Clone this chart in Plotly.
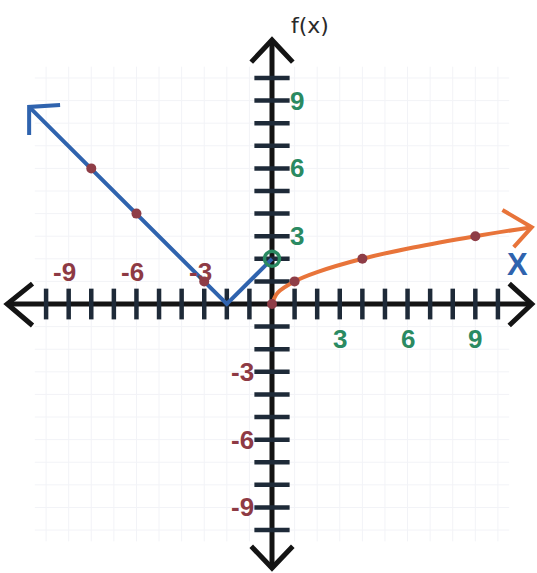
import plotly.graph_objects as go

# ---- data ----
# left branch: straight V pieces
blue_line_x = [-10.75, -2, 0]
blue_line_y = [8.72, 0, 2]
blue_pts_x = [-8, -6, -3]
blue_pts_y = [6, 4, 1]
open_pt_x = [0]
open_pt_y = [2]

# right branch: square-root style curve
orange_curve_x = [0, 0.25, 1, 2, 4, 6.25, 9, 11.5]
orange_curve_y = [0, 0.5, 1, 1.41, 2, 2.5, 3, 3.4]
orange_pts_x = [0, 1, 4, 9]
orange_pts_y = [0, 1, 2, 3]

tick_values = list(range(-10, 11))
pos_labels = [3, 6, 9]
neg_labels = [-9, -6, -3]

# ---- styles ----
AXIS = "#141414"
TICK = "#1e2a38"
BLUE = "#2f63ae"
ORANGE = "#e8743a"
DOT = "#8e3d47"
GREEN = "#2a8a62"
MAROON = "#8e3a44"
GRID = "#f2f3f7"
FONT = "Liberation Sans"

fig = go.Figure()
shapes = []

# faint grid paper
for v in tick_values:
    shapes.append(dict(type="line", x0=v, x1=v, y0=-10.5, y1=10.5,
                       line=dict(color=GRID, width=1), layer="below"))
    shapes.append(dict(type="line", x0=-10.5, x1=10.5, y0=v, y1=v,
                       line=dict(color=GRID, width=1), layer="below"))

# main axes
shapes.append(dict(type="line", x0=-11.7, x1=11.5, y0=0, y1=0,
                   line=dict(color=AXIS, width=5), layer="below"))
shapes.append(dict(type="line", x0=0, x1=0, y0=-11.65, y1=11.65,
                   line=dict(color=AXIS, width=5), layer="below"))

# tick marks
for v in tick_values:
    if v == 0:
        continue
    shapes.append(dict(type="line", x0=v, x1=v, y0=-0.68, y1=0.68,
                       line=dict(color=TICK, width=4.5), layer="below"))
    shapes.append(dict(type="line", x0=-0.78, x1=0.78, y0=v, y1=v,
                       line=dict(color=TICK, width=4.5), layer="below"))

# open chevrons at the ends of the axes
chevrons = [
    ([-10.6, -11.72, -10.6], [0.9, 0, -0.95]),
    ([10.5, 11.5, 10.5], [0.9, 0, -0.95]),
    ([-0.92, 0, 0.92], [10.7, 11.68, 10.7]),
    ([-0.92, 0, 0.92], [-10.72, -11.68, -10.72]),
]
for cx, cy in chevrons:
    fig.add_trace(go.Scatter(x=cx, y=cy, mode="lines",
                             line=dict(color=AXIS, width=5),
                             hoverinfo="skip", showlegend=False))

# blue branch
fig.add_trace(go.Scatter(x=blue_line_x, y=blue_line_y, mode="lines",
                         line=dict(color=BLUE, width=4), showlegend=False))
fig.add_trace(go.Scatter(x=[-9.38, -10.75, -10.75], y=[8.8, 8.72, 7.48],
                         mode="lines", line=dict(color=BLUE, width=4),
                         hoverinfo="skip", showlegend=False))
fig.add_trace(go.Scatter(x=blue_pts_x, y=blue_pts_y, mode="markers",
                         marker=dict(color=DOT, size=10), showlegend=False))
fig.add_trace(go.Scatter(x=open_pt_x, y=open_pt_y, mode="markers",
                         marker=dict(symbol="circle-open", color=GREEN, size=15,
                                     line=dict(width=3.5)),
                         showlegend=False))

# orange branch
fig.add_trace(go.Scatter(x=orange_curve_x, y=orange_curve_y, mode="lines",
                         line=dict(color=ORANGE, width=4, shape="spline"),
                         showlegend=False))
fig.add_trace(go.Scatter(x=[10.2, 11.5, 10.7], y=[4.16, 3.4, 2.52],
                         mode="lines", line=dict(color=ORANGE, width=4),
                         hoverinfo="skip", showlegend=False))
fig.add_trace(go.Scatter(x=orange_pts_x, y=orange_pts_y, mode="markers",
                         marker=dict(color=DOT, size=10), showlegend=False))

annotations = []
lab_font = dict(family=FONT, size=26, color=GREEN)
neg_font = dict(family=FONT, size=26, color=MAROON)
for v in pos_labels:
    annotations.append(dict(x=v, y=-1.55, text=f"<b>{v}</b>", showarrow=False,
                            xanchor="center", yanchor="middle", font=lab_font))
    annotations.append(dict(x=0.72, y=v, text=f"<b>{v}</b>", showarrow=False,
                            xanchor="left", yanchor="middle", font=lab_font))
for v in neg_labels:
    annotations.append(dict(x=v, y=1.4, text=f"<b>{v}</b>", showarrow=False,
                            xanchor="center", yanchor="middle", xshift=-4,
                            font=neg_font))
    annotations.append(dict(x=-0.7, y=v, text=f"<b>{v}</b>", showarrow=False,
                            xanchor="right", yanchor="middle", font=neg_font))

annotations.append(dict(x=1.68, y=12.3, text="f(x)", showarrow=False,
                        xanchor="center", yanchor="middle",
                        font=dict(family="DejaVu Sans", size=22, color="#2a2a2a")))
annotations.append(dict(x=10.85, y=1.75, text="<b>X</b>", showarrow=False,
                        xanchor="center", yanchor="middle",
                        font=dict(family=FONT, size=31, color=BLUE)))

fig.update_layout(
    width=537, height=573,
    margin=dict(l=0, r=0, t=0, b=0),
    paper_bgcolor="white", plot_bgcolor="white",
    shapes=shapes, annotations=annotations,
    xaxis=dict(range=[-12.04, 11.73], visible=False, fixedrange=True),
    yaxis=dict(range=[-11.9, 13.45], visible=False, fixedrange=True),
    showlegend=False,
)

fig.write_html("out.html")
